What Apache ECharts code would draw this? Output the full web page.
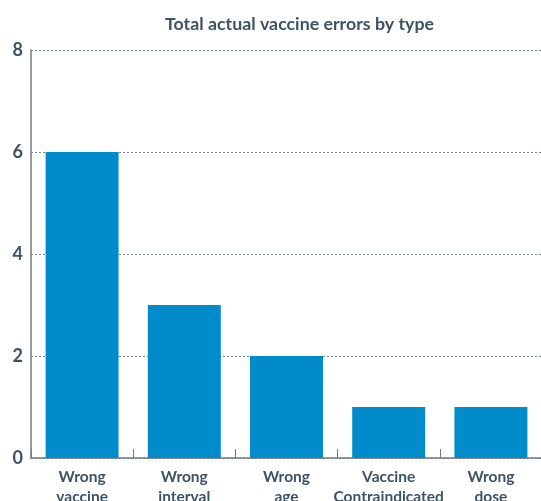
<!DOCTYPE html>
<html><head><meta charset="utf-8">
<script src="https://cdn.jsdelivr.net/npm/echarts@6/dist/echarts.min.js"></script>
<style>html,body{margin:0;padding:0;background:#fff}#c{width:541px;height:501px}</style>
</head><body><div id="c"></div>
<script>
const titleText = 'Total actual vaccine errors by type';
const categories = ['Wrong\nvaccine', 'Wrong\ninterval', 'Wrong\nage', 'Vaccine\nContraindicated', 'Wrong\ndose'];
const values = [6, 3, 2, 1, 1];
const yTicks = [0, 2, 4, 6, 8];
const textColor = '#3f5264';
const chart = echarts.init(document.getElementById('c'));
chart.setOption({
  animation: false,
  title: { text: titleText, left: 160, top: 10, textStyle: { fontFamily: 'Lato', fontWeight: 'bold', fontSize: 17.8, color: textColor } },
  grid: { left: 31, right: -1, top: 50, bottom: 43, outerBoundsMode: 'none', containLabel: false },
  xAxis: {
    type: 'category', data: categories,
    axisLine: { lineStyle: { color: '#6f7a84', width: 1.5 } },
    axisTick: { show: true, inside: true, length: 9, lineStyle: { color: '#6f7a84' } },
    axisLabel: { interval: 0, fontFamily: 'Lato', fontWeight: 'bold', fontSize: 15.5, color: textColor, lineHeight: 20, margin: 9 }
  },
  yAxis: {
    type: 'value', min: yTicks[0], max: yTicks[yTicks.length - 1], interval: 2,
    axisLine: { show: true, lineStyle: { color: '#6f7a84', width: 1.5 } },
    axisTick: { show: false },
    splitLine: { lineStyle: { color: '#7d8790', type: [2, 2], width: 1 } },
    axisLabel: { fontFamily: 'Lato', fontWeight: 'bold', fontSize: 18, color: textColor, margin: 8 }
  },
  series: [{ type: 'bar', data: values, barWidth: '71.4%', itemStyle: { color: '#028bcb' } }]
});
</script></body></html>
